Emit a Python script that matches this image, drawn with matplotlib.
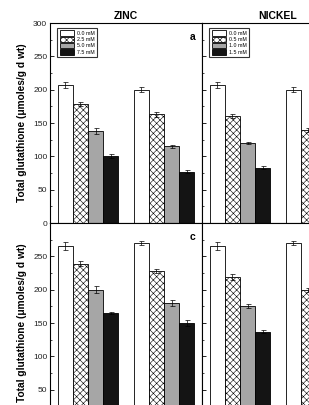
import numpy as np
import matplotlib
matplotlib.use("Agg")
import matplotlib.pyplot as plt
from matplotlib.ticker import MultipleLocator

plt.rcParams["font.family"] = ["Liberation Sans", "DejaVu Sans"]
plt.rcParams["hatch.linewidth"] = 0.4

# None = bar lies outside the cropped view.
zinc_labels = ["0.0 mM", "2.5 mM", "5.0 mM", "7.5 mM"]
nickel_labels = ["0.0 mM", "0.5 mM", "1.0 mM", "1.5 mM"]

zinc_a = [[207, 178, 138, 100], [200, 163, 115, 77]]
zinc_a_err = [[5, 3, 4, 3], [4, 4, 2, 2]]
nickel_a = [[207, 161, 120, 83], [200, 139, None, None]]
nickel_a_err = [[5, 3, 2, 2], [4, 3, None, None]]

zinc_c = [[266, 239, 200, 165], [270, 228, 180, 150]]
zinc_c_err = [[6, 4, 5, 2], [3, 3, 4, 5]]
nickel_c = [[266, 219, 175, 137], [270, 199, None, None]]
nickel_c_err = [[6, 4, 3, 2], [3, 3, None, None]]

faces = ["white", "white", "#a6a6a6", "#141414"]
hatches = [None, "xxxxx", None, None]
offsets = [-0.3, -0.1, 0.1, 0.3]

W, H = 309, 405
fig = plt.figure(figsize=(W / 100, H / 100), dpi=100)


def px_axes(x0, y_top, w=152, h=200):
    return fig.add_axes([x0 / W, 1 - (y_top + h) / H, w / W, h / H])


def draw(ax, vals, errs, show_labels, letter, legend_labels=None, top=True):
    handles = []
    for g, (grp, egrp) in enumerate(zip(vals, errs)):
        for i, (v, e) in enumerate(zip(grp, egrp)):
            if v is None:
                continue
            b = ax.bar(g + offsets[i], v, width=0.2, color=faces[i], hatch=hatches[i],
                       edgecolor="black", linewidth=0.6, zorder=2)
            ax.errorbar(g + offsets[i], v, yerr=e, color="black", capsize=1.8,
                        elinewidth=0.5, capthick=0.5, fmt="none", zorder=3)
            if g == 0:
                handles.append(b)
    ax.set_xlim(-0.5, 1.5)
    ax.set_ylim(0, 300)
    ax.set_xticks([])
    ax.yaxis.set_major_locator(MultipleLocator(50))
    ax.yaxis.set_minor_locator(MultipleLocator(25))
    ax.tick_params(axis="y", which="major", direction="in", length=3, width=0.6,
                   labelsize=6, pad=2, labelleft=show_labels, labelcolor="#222222")
    ax.tick_params(axis="y", which="minor", direction="in", length=1.5, width=0.5)
    for s in ax.spines.values():
        s.set_linewidth(0.8)
    if show_labels:
        ax.set_yticks([0, 50, 100, 150, 200, 250, 300])
        if not top:
            # the 300 label is shared with the panel above
            ax.set_yticklabels(["0", "50", "100", "150", "200", "250", ""])
        ax.set_ylabel("Total glutathione (\u03bcmoles/g d wt)", fontsize=7.3,
                      fontweight="bold", labelpad=4)
    if letter:
        ax.text(0.94, 0.93, letter, transform=ax.transAxes, fontsize=7.5,
                fontweight="bold", ha="center", va="center")
    if legend_labels:
        ax.legend(handles, legend_labels, loc="upper left", fontsize=3.8,
                  frameon=True, fancybox=False, edgecolor="black",
                  handlelength=2.6, handleheight=1.2, handletextpad=0.6,
                  labelspacing=0.15, borderpad=0.5, borderaxespad=0.5,
                  bbox_to_anchor=(0.03, 0.99))
        ax.get_legend().get_frame().set_linewidth(0.8)


ax1 = px_axes(50, 23)
ax2 = px_axes(202, 23)
ax3 = px_axes(50, 223)
ax4 = px_axes(202, 223)

draw(ax1, zinc_a, zinc_a_err, True, "a", zinc_labels)
draw(ax2, nickel_a, nickel_a_err, False, None, nickel_labels)
draw(ax3, zinc_c, zinc_c_err, True, "c", top=False)
draw(ax4, nickel_c, nickel_c_err, False, None, top=False)

ax1.set_title("ZINC", fontsize=7.5, fontweight="bold", pad=3)
ax2.set_title("NICKEL", fontsize=7.5, fontweight="bold", pad=3)

fig.savefig("out.png", dpi=100)
